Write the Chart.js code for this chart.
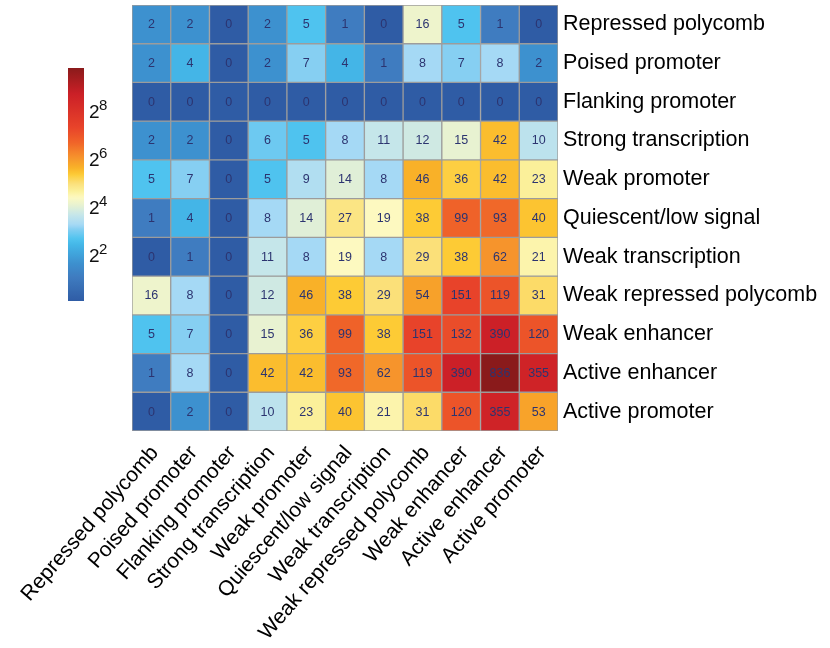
<!DOCTYPE html>
<html>
<head>
<meta charset="utf-8">
<title>Chromatin state transition counts</title>
<script src="https://cdn.jsdelivr.net/npm/chart.js@4/dist/chart.umd.min.js"></script>
<style>
  html, body { margin: 0; padding: 0; background: #ffffff; }
  #wrap { width: 830px; height: 648px; }
</style>
</head>
<body>
<div id="wrap"><canvas id="heat" width="830" height="648"></canvas></div>
<script>
// Chromatin states (rows listed top to bottom, columns left to right)
const states = [
  'Repressed polycomb', 'Poised promoter', 'Flanking promoter', 'Strong transcription',
  'Weak promoter', 'Quiescent/low signal', 'Weak transcription', 'Weak repressed polycomb',
  'Weak enhancer', 'Active enhancer', 'Active promoter'
];

// Transition counts, one array per row state
const repressedPolycomb     = [2, 2, 0, 2, 5, 1, 0, 16, 5, 1, 0];
const poisedPromoter        = [2, 4, 0, 2, 7, 4, 1, 8, 7, 8, 2];
const flankingPromoter      = [0, 0, 0, 0, 0, 0, 0, 0, 0, 0, 0];
const strongTranscription   = [2, 2, 0, 6, 5, 8, 11, 12, 15, 42, 10];
const weakPromoter          = [5, 7, 0, 5, 9, 14, 8, 46, 36, 42, 23];
const quiescentLowSignal    = [1, 4, 0, 8, 14, 27, 19, 38, 99, 93, 40];
const weakTranscription     = [0, 1, 0, 11, 8, 19, 8, 29, 38, 62, 21];
const weakRepressedPolycomb = [16, 8, 0, 12, 46, 38, 29, 54, 151, 119, 31];
const weakEnhancer          = [5, 7, 0, 15, 36, 99, 38, 151, 132, 390, 120];
const activeEnhancer        = [1, 8, 0, 42, 42, 93, 62, 119, 390, 836, 355];
const activePromoter        = [0, 2, 0, 10, 23, 40, 21, 31, 120, 355, 53];

const counts = [
  repressedPolycomb, poisedPromoter, flankingPromoter, strongTranscription,
  weakPromoter, quiescentLowSignal, weakTranscription, weakRepressedPolycomb,
  weakEnhancer, activeEnhancer, activePromoter
];

// Colour key ticks (powers of two)
const keyExponents = [2, 4, 6, 8];

const FONT = "'Liberation Sans', Arial, Helvetica, sans-serif";
const maxCount = Math.max(...counts.flat());
const logMax = Math.log2(maxCount + 1);

// Blue-yellow-red ramp on log2(count + 1)
const ramp = [
  [0.000, '#2f5ca5'], [0.103, '#3f7cc0'], [0.163, '#3d91cf'], [0.239, '#44b5e7'],
  [0.266, '#4fc3ef'], [0.309, '#86cff2'], [0.326, '#a5d9f5'], [0.369, '#c5e6ea'],
  [0.412, '#e8f2d1'], [0.445, '#fdf9c0'], [0.472, '#fbf09a'], [0.505, '#fbe07a'],
  [0.544, '#fdcb35'], [0.572, '#f9b128'], [0.615, '#f6942c'], [0.680, '#f06429'],
  [0.746, '#e8432a'], [0.887, '#cc2027'], [1.000, '#8a1a1b']
];
function hexRgb(h) {
  return [parseInt(h.slice(1, 3), 16), parseInt(h.slice(3, 5), 16), parseInt(h.slice(5, 7), 16)];
}
function rampColor(t) {
  t = Math.min(1, Math.max(0, t));
  for (let i = 1; i < ramp.length; i++) {
    if (t <= ramp[i][0]) {
      const [t0, c0] = ramp[i - 1];
      const [t1, c1] = ramp[i];
      const f = (t - t0) / (t1 - t0);
      const a = hexRgb(c0), b = hexRgb(c1);
      const m = a.map((v, k) => Math.round(v + (b[k] - v) * f));
      return `rgb(${m[0]},${m[1]},${m[2]})`;
    }
  }
  return ramp[ramp.length - 1][1];
}
function colorFor(count) {
  return rampColor(Math.log2(count + 1) / logMax);
}

// One floating-bar dataset per row: each row occupies the band [r, r + 1]
const datasets = counts.map((row, r) => ({
  label: states[r],
  data: row.map(() => [r, r + 1]),
  backgroundColor: row.map(colorFor),
  borderColor: '#9c9c9c',
  borderWidth: 1,
  borderSkipped: false,
  grouped: false,
  barPercentage: 1,
  categoryPercentage: 1
}));

// Count labels in the middle of every cell
const cellText = {
  id: 'cellText',
  afterDatasetsDraw(chart) {
    const ctx = chart.ctx;
    ctx.save();
    ctx.font = `12.5px ${FONT}`;
    ctx.fillStyle = '#2c3470';
    ctx.textAlign = 'center';
    ctx.textBaseline = 'middle';
    chart.data.datasets.forEach((ds, r) => {
      chart.getDatasetMeta(r).data.forEach((bar, c) => {
        ctx.fillText(String(counts[r][c]), bar.x, (bar.y + bar.base) / 2 + 0.5);
      });
    });
    ctx.restore();
  }
};

// Vertical colour key on the left
const colourKey = {
  id: 'colourKey',
  afterDraw(chart) {
    const ctx = chart.ctx;
    const x0 = 68, w = 16, top = 68, bottom = 301;
    const grad = ctx.createLinearGradient(0, bottom, 0, top);
    for (let i = 0; i <= 100; i++) grad.addColorStop(i / 100, rampColor(i / 100));
    ctx.save();
    ctx.fillStyle = grad;
    ctx.fillRect(x0, top, w, bottom - top);
    ctx.fillStyle = '#111111';
    keyExponents.forEach(e => {
      const y = bottom - (e / logMax) * (bottom - top);
      ctx.textBaseline = 'alphabetic';
      ctx.textAlign = 'left';
      ctx.font = `19px ${FONT}`;
      ctx.fillText('2', 89, y + 9);
      ctx.font = `15px ${FONT}`;
      ctx.fillText(String(e), 99, y + 1);
    });
    ctx.restore();
  }
};

// Keep the cell grid exactly where the layout padding puts it
function noEdgePadding(scale) {
  scale.paddingTop = 0;
  scale.paddingBottom = 0;
  scale.paddingLeft = 0;
  scale.paddingRight = 0;
}

new Chart(document.getElementById('heat'), {
  type: 'bar',
  data: { labels: states, datasets },
  options: {
    responsive: false,
    animation: false,
    layout: { padding: { left: 132, top: 5, right: 0, bottom: 0 } },
    plugins: { legend: { display: false }, tooltip: { enabled: false } },
    scales: {
      x: {
        type: 'category',
        offset: true,
        grid: { display: false, drawTicks: false },
        border: { display: false },
        ticks: {
          autoSkip: false,
          minRotation: 49,
          maxRotation: 49,
          padding: 10,
          labelOffset: 3.5,
          color: '#000000',
          font: { family: FONT, size: 21 }
        },
        afterFit(scale) { scale.height = 217; noEdgePadding(scale); }
      },
      y: {
        type: 'linear',
        display: false,
        min: 0,
        max: states.length,
        reverse: true
      },
      rows: {
        type: 'category',
        labels: states,
        position: 'right',
        offset: true,
        grid: { display: false, drawTicks: false },
        border: { display: false },
        ticks: {
          padding: 5,
          color: '#000000',
          font: { family: FONT, size: 21.5 }
        },
        afterFit(scale) { scale.width = 272; noEdgePadding(scale); }
      }
    }
  },
  plugins: [cellText, colourKey]
});
</script>
</body>
</html>
